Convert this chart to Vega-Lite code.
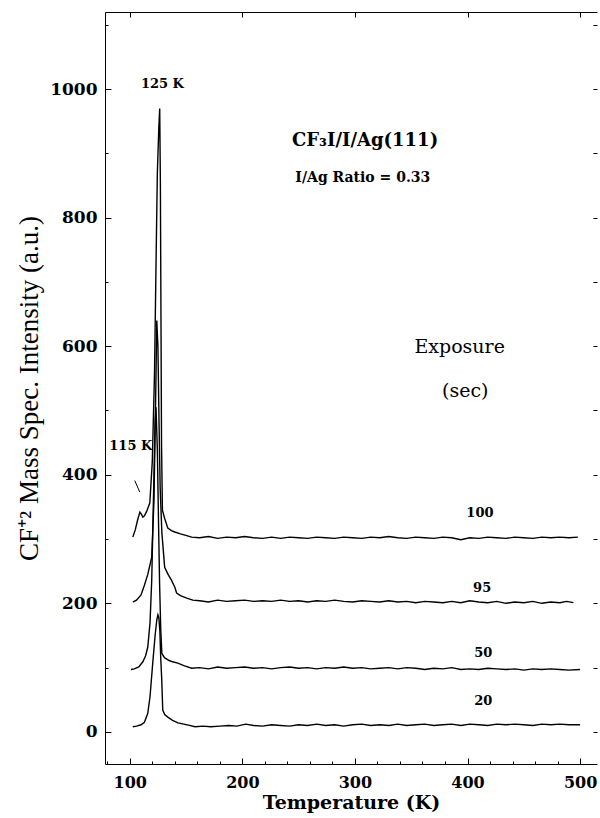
{
  "$schema": "https://vega.github.io/schema/vega-lite/v6.json",
  "width": 492,
  "height": 752,
  "autosize": {"type": "none"},
  "padding": {"left": 105, "top": 12, "right": 3, "bottom": 54},
  "background": "white",
  "config": {"view": {"stroke": null}},
  "layer": [
    {
      "data": {"values": [
        {"s":"20","T":102.7,"v":8},{"s":"20","T":106,"v":9},{"s":"20","T":110,"v":11},{"s":"20","T":113,"v":15},{"s":"20","T":116,"v":29},{"s":"20","T":118,"v":55},{"s":"20","T":120.4,"v":107},{"s":"20","T":122.5,"v":150},{"s":"20","T":124,"v":174},{"s":"20","T":125,"v":182},{"s":"20","T":125.8,"v":178},{"s":"20","T":126.7,"v":158},{"s":"20","T":127.5,"v":115},{"s":"20","T":128.4,"v":81},{"s":"20","T":129.3,"v":34},{"s":"20","T":131,"v":27},{"s":"20","T":133.8,"v":23},{"s":"20","T":138,"v":18},{"s":"20","T":142.7,"v":14},{"s":"20","T":148,"v":12},{"s":"20","T":153,"v":10},{"s":"20","T":158,"v":8},{"s":"20","T":165,"v":9},{"s":"20","T":172,"v":8},{"s":"20","T":180,"v":9},{"s":"20","T":188,"v":10},{"s":"20","T":195,"v":9},{"s":"20","T":203,"v":12},{"s":"20","T":210,"v":10},{"s":"20","T":218,"v":9},{"s":"20","T":226,"v":11},{"s":"20","T":234,"v":10},{"s":"20","T":242,"v":9},{"s":"20","T":250,"v":11},{"s":"20","T":258,"v":10},{"s":"20","T":266,"v":12},{"s":"20","T":274,"v":10},{"s":"20","T":282,"v":11},{"s":"20","T":290,"v":9},{"s":"20","T":298,"v":11},{"s":"20","T":306,"v":12},{"s":"20","T":314,"v":10},{"s":"20","T":322,"v":11},{"s":"20","T":330,"v":10},{"s":"20","T":338,"v":12},{"s":"20","T":346,"v":10},{"s":"20","T":354,"v":11},{"s":"20","T":362,"v":12},{"s":"20","T":370,"v":10},{"s":"20","T":378,"v":11},{"s":"20","T":386,"v":12},{"s":"20","T":394,"v":10},{"s":"20","T":402,"v":12},{"s":"20","T":410,"v":11},{"s":"20","T":418,"v":10},{"s":"20","T":426,"v":12},{"s":"20","T":434,"v":11},{"s":"20","T":442,"v":12},{"s":"20","T":450,"v":11},{"s":"20","T":458,"v":10},{"s":"20","T":466,"v":12},{"s":"20","T":474,"v":11},{"s":"20","T":482,"v":12},{"s":"20","T":490,"v":11},{"s":"20","T":500,"v":11},
        {"s":"50","T":101,"v":97},{"s":"50","T":104,"v":98},{"s":"50","T":108,"v":101},{"s":"50","T":111.6,"v":109},{"s":"50","T":114,"v":118},{"s":"50","T":116,"v":132},{"s":"50","T":118,"v":170},{"s":"50","T":119.5,"v":236},{"s":"50","T":121,"v":360},{"s":"50","T":122.5,"v":480},{"s":"50","T":123.3,"v":505},{"s":"50","T":124.5,"v":440},{"s":"50","T":125.5,"v":330},{"s":"50","T":126.5,"v":230},{"s":"50","T":127.5,"v":160},{"s":"50","T":128.5,"v":122},{"s":"50","T":131,"v":115},{"s":"50","T":135,"v":111},{"s":"50","T":138,"v":109},{"s":"50","T":142.7,"v":107},{"s":"50","T":148,"v":103},{"s":"50","T":155,"v":99},{"s":"50","T":162,"v":100},{"s":"50","T":170,"v":98},{"s":"50","T":178,"v":101},{"s":"50","T":186,"v":99},{"s":"50","T":194,"v":100},{"s":"50","T":202,"v":101},{"s":"50","T":210,"v":99},{"s":"50","T":218,"v":100},{"s":"50","T":226,"v":98},{"s":"50","T":234,"v":100},{"s":"50","T":242,"v":101},{"s":"50","T":250,"v":99},{"s":"50","T":258,"v":100},{"s":"50","T":266,"v":98},{"s":"50","T":274,"v":100},{"s":"50","T":282,"v":99},{"s":"50","T":290,"v":101},{"s":"50","T":298,"v":99},{"s":"50","T":306,"v":100},{"s":"50","T":314,"v":98},{"s":"50","T":322,"v":99},{"s":"50","T":330,"v":100},{"s":"50","T":338,"v":98},{"s":"50","T":346,"v":100},{"s":"50","T":354,"v":99},{"s":"50","T":362,"v":97},{"s":"50","T":370,"v":99},{"s":"50","T":378,"v":98},{"s":"50","T":386,"v":100},{"s":"50","T":394,"v":97},{"s":"50","T":402,"v":98},{"s":"50","T":410,"v":97},{"s":"50","T":418,"v":99},{"s":"50","T":426,"v":98},{"s":"50","T":434,"v":97},{"s":"50","T":442,"v":98},{"s":"50","T":450,"v":96},{"s":"50","T":458,"v":98},{"s":"50","T":466,"v":97},{"s":"50","T":474,"v":98},{"s":"50","T":482,"v":97},{"s":"50","T":490,"v":96},{"s":"50","T":500,"v":97},
        {"s":"95","T":102.7,"v":202},{"s":"95","T":106,"v":205},{"s":"95","T":110,"v":213},{"s":"95","T":113,"v":228},{"s":"95","T":116,"v":245},{"s":"95","T":119.5,"v":272},{"s":"95","T":121.5,"v":360},{"s":"95","T":123,"v":520},{"s":"95","T":124,"v":640},{"s":"95","T":125,"v":600},{"s":"95","T":126,"v":480},{"s":"95","T":127,"v":380},{"s":"95","T":128.5,"v":310},{"s":"95","T":131,"v":256},{"s":"95","T":134,"v":245},{"s":"95","T":137,"v":236},{"s":"95","T":140,"v":225},{"s":"95","T":141.6,"v":216},{"s":"95","T":145,"v":212},{"s":"95","T":150.6,"v":208},{"s":"95","T":156,"v":205},{"s":"95","T":162,"v":204},{"s":"95","T":170,"v":202},{"s":"95","T":178,"v":205},{"s":"95","T":186,"v":203},{"s":"95","T":194,"v":204},{"s":"95","T":202,"v":205},{"s":"95","T":210,"v":203},{"s":"95","T":218,"v":204},{"s":"95","T":226,"v":203},{"s":"95","T":234,"v":205},{"s":"95","T":242,"v":203},{"s":"95","T":250,"v":204},{"s":"95","T":258,"v":202},{"s":"95","T":266,"v":204},{"s":"95","T":274,"v":203},{"s":"95","T":282,"v":205},{"s":"95","T":290,"v":203},{"s":"95","T":298,"v":202},{"s":"95","T":306,"v":204},{"s":"95","T":314,"v":203},{"s":"95","T":322,"v":202},{"s":"95","T":330,"v":204},{"s":"95","T":338,"v":202},{"s":"95","T":346,"v":203},{"s":"95","T":354,"v":201},{"s":"95","T":362,"v":203},{"s":"95","T":370,"v":202},{"s":"95","T":378,"v":201},{"s":"95","T":386,"v":203},{"s":"95","T":394,"v":201},{"s":"95","T":402,"v":204},{"s":"95","T":410,"v":202},{"s":"95","T":418,"v":201},{"s":"95","T":426,"v":203},{"s":"95","T":434,"v":200},{"s":"95","T":442,"v":202},{"s":"95","T":450,"v":201},{"s":"95","T":458,"v":203},{"s":"95","T":466,"v":200},{"s":"95","T":474,"v":202},{"s":"95","T":482,"v":201},{"s":"95","T":488,"v":203},{"s":"95","T":494,"v":201},
        {"s":"100","T":102.7,"v":303},{"s":"100","T":105,"v":315},{"s":"100","T":107,"v":330},{"s":"100","T":109,"v":342},{"s":"100","T":110.5,"v":338},{"s":"100","T":111.6,"v":334},{"s":"100","T":113,"v":336},{"s":"100","T":115,"v":343},{"s":"100","T":117.8,"v":356},{"s":"100","T":120,"v":420},{"s":"100","T":122,"v":560},{"s":"100","T":123.5,"v":750},{"s":"100","T":124.5,"v":870},{"s":"100","T":125.8,"v":940},{"s":"100","T":126.6,"v":970},{"s":"100","T":127.2,"v":850},{"s":"100","T":127.7,"v":650},{"s":"100","T":128.2,"v":450},{"s":"100","T":129,"v":345},{"s":"100","T":131,"v":332},{"s":"100","T":133.8,"v":317},{"s":"100","T":137,"v":313},{"s":"100","T":140,"v":311},{"s":"100","T":145,"v":308},{"s":"100","T":149,"v":306},{"s":"100","T":155,"v":303},{"s":"100","T":162,"v":302},{"s":"100","T":170,"v":304},{"s":"100","T":178,"v":301},{"s":"100","T":186,"v":303},{"s":"100","T":194,"v":302},{"s":"100","T":202,"v":304},{"s":"100","T":210,"v":302},{"s":"100","T":218,"v":301},{"s":"100","T":226,"v":303},{"s":"100","T":234,"v":301},{"s":"100","T":242,"v":303},{"s":"100","T":250,"v":302},{"s":"100","T":258,"v":301},{"s":"100","T":266,"v":303},{"s":"100","T":274,"v":302},{"s":"100","T":282,"v":301},{"s":"100","T":290,"v":303},{"s":"100","T":298,"v":302},{"s":"100","T":306,"v":301},{"s":"100","T":314,"v":303},{"s":"100","T":322,"v":302},{"s":"100","T":330,"v":304},{"s":"100","T":338,"v":302},{"s":"100","T":346,"v":301},{"s":"100","T":354,"v":303},{"s":"100","T":362,"v":302},{"s":"100","T":370,"v":301},{"s":"100","T":378,"v":303},{"s":"100","T":386,"v":302},{"s":"100","T":394,"v":299},{"s":"100","T":402,"v":302},{"s":"100","T":410,"v":301},{"s":"100","T":418,"v":303},{"s":"100","T":426,"v":302},{"s":"100","T":434,"v":301},{"s":"100","T":442,"v":303},{"s":"100","T":450,"v":302},{"s":"100","T":458,"v":301},{"s":"100","T":466,"v":303},{"s":"100","T":474,"v":302},{"s":"100","T":482,"v":303},{"s":"100","T":490,"v":302},{"s":"100","T":498,"v":303}
      ]},
      "mark": {"type": "line", "color": "black", "strokeWidth": 1.4, "interpolate": "linear"},
      "encoding": {
        "x": {"field": "T", "type": "quantitative",
          "scale": {"domain": [78, 515], "nice": false, "zero": false},
          "axis": {"orient": "bottom", "values": [80,100,120,140,160,180,200,220,240,260,280,300,320,340,360,380,400,420,440,460,480,500],
            "format": "d",
            "labelExpr": "datum.value % 100 === 0 ? datum.label : ''",
            "tickSize": {"condition": {"test": "datum.value % 100 === 0", "value": -6}, "value": -3},
            "labelPadding": 16, "domainColor": "black", "tickColor": "black", "grid": false,
            "labelFont": "DejaVu Serif", "labelFontWeight": "bold", "labelFontSize": 16, "labelColor": "black",
            "title": "Temperature  (K)", "titleFont": "DejaVu Serif", "titleFontWeight": "bold", "titleFontSize": 19, "titleColor": "black", "titlePadding": 3}},
        "y": {"field": "v", "type": "quantitative",
          "scale": {"domain": [-50, 1120], "nice": false, "zero": false},
          "axis": {"orient": "left", "values": [0,100,200,300,400,500,600,700,800,900,1000,1100],
            "format": "d",
            "labelExpr": "datum.value % 200 === 0 ? datum.label : ''",
            "tickSize": {"condition": {"test": "datum.value % 200 === 0", "value": -6}, "value": -3},
            "labelPadding": 14, "domainColor": "black", "tickColor": "black", "grid": false,
            "labelFont": "DejaVu Serif", "labelFontWeight": "bold", "labelFontSize": 17, "labelColor": "black",
            "title": "CF⁺² Mass Spec. Intensity (a.u.)", "titleFont": "Liberation Serif", "titleFontWeight": "normal", "titleFontSize": 27, "titleColor": "black", "titlePadding": 6}},
        "detail": {"field": "s", "type": "nominal"}
      }
    },
    {
      "data": {"values": [{"T1": 104.4, "v1": 391, "T2": 108.9, "v2": 373}]},
      "mark": {"type": "rule", "color": "black", "strokeWidth": 1},
      "encoding": {
        "x": {"field": "T1", "type": "quantitative", "axis": null},
        "y": {"field": "v1", "type": "quantitative", "axis": null},
        "x2": {"field": "T2"},
        "y2": {"field": "v2"}
      }
    },
    {
      "data": {"values": [{"T": 129, "v": 1008, "t": "125 K"}, {"T": 100.9, "v": 444, "t": "115 K"}, {"T": 411, "v": 340, "t": "100"}, {"T": 413, "v": 224, "t": "95"}, {"T": 414, "v": 123, "t": "50"}, {"T": 414, "v": 48, "t": "20"}]},
      "mark": {"type": "text", "font": "DejaVu Serif", "fontWeight": "bold", "fontSize": 13, "color": "black", "align": "center", "baseline": "middle"},
      "encoding": {
        "x": {"field": "T", "type": "quantitative", "axis": null},
        "y": {"field": "v", "type": "quantitative", "axis": null},
        "text": {"field": "t"}
      }
    },
    {
      "data": {"values": [{"T": 309, "v": 919, "t": "CF₃I/I/Ag(111)"}]},
      "mark": {"type": "text", "font": "DejaVu Serif", "fontWeight": "bold", "fontSize": 18, "color": "black", "align": "center", "baseline": "middle"},
      "encoding": {
        "x": {"field": "T", "type": "quantitative", "axis": null},
        "y": {"field": "v", "type": "quantitative", "axis": null},
        "text": {"field": "t"}
      }
    },
    {
      "data": {"values": [{"T": 307, "v": 862, "t": "I/Ag Ratio = 0.33"}]},
      "mark": {"type": "text", "font": "DejaVu Serif", "fontWeight": "bold", "fontSize": 14, "color": "black", "align": "center", "baseline": "middle"},
      "encoding": {
        "x": {"field": "T", "type": "quantitative", "axis": null},
        "y": {"field": "v", "type": "quantitative", "axis": null},
        "text": {"field": "t"}
      }
    },
    {
      "data": {"values": [{"T": 393, "v": 599, "t": "Exposure"}, {"T": 398, "v": 531, "t": "(sec)"}]},
      "mark": {"type": "text", "font": "DejaVu Serif", "fontWeight": "normal", "fontSize": 19, "color": "black", "align": "center", "baseline": "middle"},
      "encoding": {
        "x": {"field": "T", "type": "quantitative", "axis": null},
        "y": {"field": "v", "type": "quantitative", "axis": null},
        "text": {"field": "t"}
      }
    },
    {
      "data": {"values": [{"T": 300, "v": 0}]},
      "mark": {"type": "point", "opacity": 0},
      "encoding": {
        "x": {"field": "T", "type": "quantitative",
          "axis": {"orient": "top", "values": [100,200,300,400,500], "labels": false, "title": null, "tickSize": -5, "domainColor": "black", "tickColor": "black", "grid": false}},
        "y": {"field": "v", "type": "quantitative",
          "axis": {"orient": "right", "values": [0,100,200,300,400,500,600,700,800,900,1000,1100], "labels": false, "title": null, "domain": false, "tickSize": -4, "tickColor": "black", "grid": false}}
      }
    }
  ],
  "resolve": {"axis": {"x": "independent", "y": "independent"}}
}
